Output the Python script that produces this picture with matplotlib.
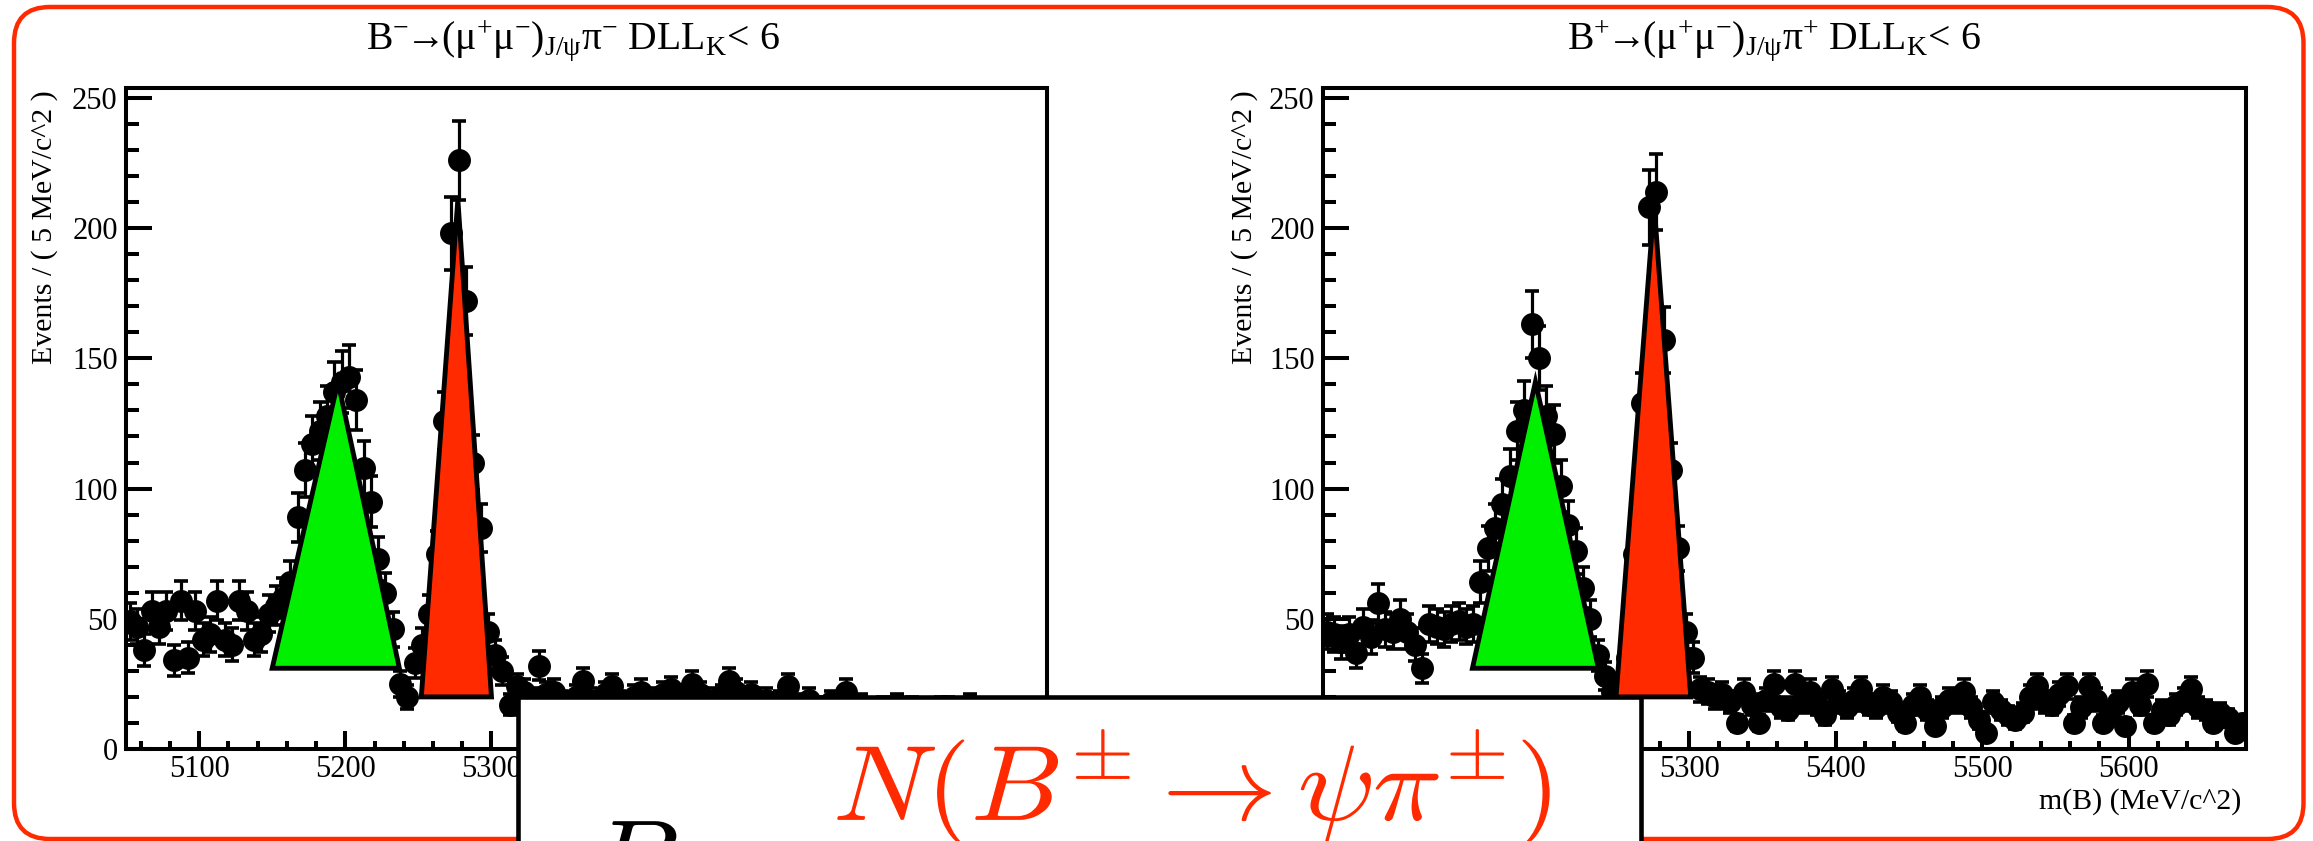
import numpy as np
import matplotlib
matplotlib.use("Agg")
import matplotlib.pyplot as plt
from matplotlib.patches import Polygon, Rectangle, FancyBboxPatch, PathPatch
from matplotlib.ticker import MultipleLocator, FuncFormatter
from matplotlib.textpath import TextPath
from matplotlib.font_manager import FontProperties
from matplotlib.transforms import Affine2D

# m(B) binning: 5 MeV/c^2 bins over [5050, 5680]
M_LO, M_HI, BIN_W = 5050.0, 5680.0, 5.0

# events per bin, DLL_K < 6
counts_minus = [
    49, 47, 38, 53, 47, 53, 34, 57, 35, 53, 42, 44, 57, 42, 40, 57, 53, 42, 44, 52,
    55, 58, 64, 89, 107, 117, 122, 128, 137, 141, 143, 134, 108, 95, 73, 60, 46, 25, 20, 33,
    40, 52, 75, 126, 198, 226, 172, 110, 85, 45, 36, 30, 17, 24, 22, 19, 32, 21, 22, 18,
    17, 20, 26, 19, 17, 21, 24, 18, 16, 20, 22, 19, 17, 21, 23, 18, 20, 25, 21, 17,
    19, 20, 26, 22, 18, 21, 16, 19, 14, 18, 24, 17, 15, 19, 13, 16, 18, 12, 22, 15,
    17, 14, 11, 16, 12, 17, 14, 16, 14, 15, 11, 16, 16, 13, 12, 17, 14, 10, 15, 12,
    14, 13, 11, 15, 9, 12,
]
counts_plus = [
    45, 44, 41, 44, 37, 47, 43, 56, 46, 45, 50, 45, 40, 31, 48, 47, 46, 48, 49, 47,
    48, 64, 77, 85, 94, 105, 122, 130, 163, 150, 128, 121, 101, 86, 76, 62, 50, 36, 28, 22,
    21, 35, 75, 133, 208, 214, 157, 107, 77, 45, 35, 23, 22, 20, 21, 18, 10, 22, 17, 10,
    19, 25, 16, 15, 25, 18, 22, 17, 13, 23, 18, 16, 19, 23, 17, 16, 20, 18, 14, 10,
    17, 20, 15, 9, 16, 19, 18, 22, 16, 11, 6, 18, 15, 13, 11, 14, 20, 24, 18, 17,
    21, 24, 10, 16, 24, 19, 10, 14, 18, 9, 22, 17, 25, 10, 15, 13, 17, 19, 23, 16,
    15, 10, 14, 12, 6, 10,
]

# triangle sketches: (base left, base right, apex) in (m, events)
green_minus = [(5150, 31), (5237, 31), (5195, 141)]
red_minus = [(5252, 20), (5300, 20), (5277, 211)]
green_plus = [(5152, 31), (5238, 31), (5195, 141)]
red_plus = [(5250, 20), (5301, 20), (5276, 209)]

title_minus = r"$\mathrm{B^{-}\!\!\rightarrow\!\!(\mu^{+}\mu^{-})_{J/\psi}\pi^{-}\ DLL_{K}\!<\!\ 6}$"
title_plus = r"$\mathrm{B^{+}\!\!\rightarrow\!\!(\mu^{+}\mu^{-})_{J/\psi}\pi^{+}\ DLL_{K}\!<\!\ 6}$"
y_title = "Events / ( 5 MeV/c^2 )"
x_title = "m(B) (MeV/c^2)"
box_formula = r"$N(B^{\pm}\rightarrow\psi\pi^{\pm})$"

RED = "#ff2a00"
GREEN = "#00f000"

plt.rcParams["font.family"] = ["Liberation Serif", "DejaVu Serif"]
plt.rcParams["mathtext.fontset"] = "custom"
plt.rcParams["mathtext.rm"] = "Liberation Serif"
plt.rcParams["mathtext.it"] = "Liberation Serif:italic"
plt.rcParams["mathtext.bf"] = "Liberation Serif:bold"

W, H = 2313, 841
fig = plt.figure(figsize=(W / 100, H / 100), dpi=100)


def px_axes(x0, y0, x1, y1):
    """Axes rect from pixel corners (origin top-left)."""
    return fig.add_axes([x0 / W, 1 - y1 / H, (x1 - x0) / W, (y1 - y0) / H])


def draw_panel(ax, counts, green, red, shown):
    counts = np.asarray(counts, dtype=float)
    centers = M_LO + BIN_W * (np.arange(len(counts)) + 0.5)
    ax.errorbar(centers, counts, yerr=np.sqrt(counts), fmt="o", color="black",
                ms=15.5, elinewidth=2.3, capsize=5, capthick=2.6, zorder=3)
    for tri, col in ((green, GREEN), (red, RED)):
        ax.add_patch(Polygon(tri, closed=True, facecolor=col, edgecolor="black",
                             lw=3.5, joinstyle="miter", zorder=4))
    ax.set_xlim(M_LO, M_HI)
    ax.set_ylim(0, 253.8)
    ax.xaxis.set_major_locator(MultipleLocator(100))
    ax.xaxis.set_minor_locator(MultipleLocator(20))
    ax.yaxis.set_major_locator(MultipleLocator(50))
    ax.yaxis.set_minor_locator(MultipleLocator(10))
    # labels that sit under the ratio box are left blank
    ax.xaxis.set_major_formatter(FuncFormatter(
        lambda v, _: f"{v:.0f}" if shown(v) else ""))
    for sp in ax.spines.values():
        sp.set_linewidth(2.9)
    ax.tick_params(which="both", direction="in", top=False, right=False,
                   width=2.9, labelsize=22)
    ax.tick_params(axis="y", which="major", length=19, pad=6)
    ax.tick_params(axis="y", which="minor", length=9)
    ax.tick_params(axis="x", which="major", length=13, pad=4)
    ax.tick_params(axis="x", which="minor", length=6)


ax_l = px_axes(126, 88, 1047, 749)
draw_panel(ax_l, counts_minus, green_minus, red_minus, lambda v: v <= 5300)
ax_r = px_axes(1323, 88, 2246, 749)
draw_panel(ax_r, counts_plus, green_plus, red_plus, lambda v: v >= 5300)

# slide layer in pixel coordinates
ov = fig.add_axes([0, 0, 1, 1], zorder=10)
ov.set_xlim(0, W)
ov.set_ylim(H, 0)
ov.axis("off")
ov.patch.set_alpha(0)

ov.add_patch(FancyBboxPatch((14, 7), 2289.5, 832, boxstyle="round,pad=0,rounding_size=36",
                            facecolor="none", edgecolor=RED, lw=3.2, zorder=1))

ov.text(573, 49, title_minus, ha="center", va="baseline", fontsize=28.5, zorder=2)
ov.text(1774, 49, title_plus, ha="center", va="baseline", fontsize=28.5, zorder=2)
for xl in (45, 1245):
    ov.text(xl, 90, y_title, rotation=90, ha="center", va="top", fontsize=21.5, zorder=2)
ov.text(2241, 809, x_title, ha="right", va="baseline", fontsize=21.5, zorder=2)


def wide_math(x, y, s, em_px, sx, color):
    """Computer Modern formula drawn as a path, slightly widened."""
    tp = TextPath((0, 0), s, size=em_px, prop=FontProperties(math_fontfamily="cm"))
    tr = Affine2D().scale(sx, -1).translate(x, y) + ov.transData
    ov.add_patch(PathPatch(tp, transform=tr, facecolor=color, edgecolor="none", zorder=6))


# ratio box over the lower middle
ov.add_patch(Rectangle((518, 697), 1123, 200, facecolor="white", edgecolor="black",
                       lw=3.3, zorder=5))
wide_math(833, 820, box_formula, 107, 1.08, RED)
wide_math(589, 895, r"$B$", 107, 1.08, "black")

fig.savefig("out.png", dpi=100)
